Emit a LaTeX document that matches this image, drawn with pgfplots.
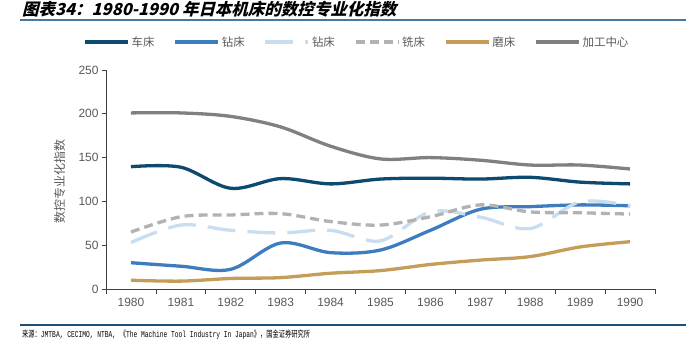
\documentclass[border=0pt]{standalone}
\usepackage{pgfplots}
\pgfplotsset{compat=1.18}
\usepackage{pgfplotstable}
\usepackage{graphicx}
\usepackage{fontspec}
\setmainfont{Liberation Sans}
\newfontfamily\cjk{Noto Sans CJK SC}
\newfontfamily\cjkt{Noto Sans CJK SC}[FakeSlant=0.25]
\newfontfamily\mono{Liberation Mono}
\definecolor{cLathe}{RGB}{13,74,112}
\definecolor{cDrill}{RGB}{62,124,192}
\definecolor{cDrillL}{RGB}{200,221,240}
\definecolor{cMill}{RGB}{178,178,178}
\definecolor{cGrind}{RGB}{196,157,88}
\definecolor{cMC}{RGB}{128,128,128}
\definecolor{cText}{RGB}{89,89,89}
\definecolor{cAxis}{RGB}{64,64,64}
\definecolor{cRule}{RGB}{70,120,160}
\definecolor{cRuleB}{RGB}{30,80,120}

\pgfplotstableread{
x lathe drill drillL mill grind mc
0 139.6 30   53   65   10 201
1 139   26   73   82.5  9 201
2 115   22.5 67   84.5 12 197
3 126   52.5 64   86   13 185
4 120   41.5 67   77   18 163
5 125.5 44.5 55   73   21 148.5
6 126.5 67   88   82.5 28 150
7 125.5 91   82   96   33 147
8 127.5 94   69   88   37 141.5
9 122   96   99.5 87   48 141.5
10 120  95   95   85.5 54 137
}\data

\begin{document}
\begin{tikzpicture}
\path[use as bounding box] (0,0) rectangle (689bp,358bp);
\begin{axis}[
  at={(106bp,69bp)}, anchor=south west,
  scale only axis, width=549bp, height=219bp,
  xmin=-0.5, xmax=10.5, ymin=0, ymax=250,
  xtick={0,...,10},
  xticklabels={1980,1981,1982,1983,1984,1985,1986,1987,1988,1989,1990},
  minor xtick={-0.5,0.5,...,10.5},
  ytick={0,50,...,250},
  major x tick style={draw=none},
  minor tick length=5bp,
  major tick length=4bp,
  tick align=outside,
  xtick pos=bottom, ytick pos=left,
  axis x line*=bottom, axis y line*=left,
  axis line style={cAxis, line width=0.8pt, -},
  tick style={cAxis, line width=0.8pt},
  every tick label/.append style={font=\fontsize{12}{14}\selectfont, text=cText},
  /pgf/number format/assume math mode=true,
  xticklabel style={yshift=-2bp},
  ylabel={\cjk 数控专业化指数},
  ylabel style={font=\fontsize{12}{14}\selectfont, text=cText, at={(axis description cs:-0.068,0.49)}, anchor=south},
  legend columns=6,
  legend style={at={(axis description cs:0.457,1.128)}, anchor=center, draw=none, fill=none,
    font=\fontsize{11.5}{13}\selectfont\cjk, text=cText,
    /tikz/every even column/.append style={column sep=17bp}},
  legend image code/.code={\draw[#1] (0bp,0bp) -- (43bp,0bp);},
  every axis plot/.append style={line width=3.3bp, smooth, tension=0.55, no markers},
]
\addplot[cLathe] table[x=x,y=lathe]{\data};
\addlegendentry{车床}
\addplot[cDrill] table[x=x,y=drill]{\data};
\addlegendentry{钻床}
\addplot[cDrillL, dash pattern=on 28bp off 12bp] table[x=x,y=drillL]{\data};
\addlegendentry{钻床}
\addplot[cMill, dash pattern=on 9bp off 5bp] table[x=x,y=mill]{\data};
\addlegendentry{铣床}
\addplot[cGrind] table[x=x,y=grind]{\data};
\addlegendentry{磨床}
\addplot[cMC] table[x=x,y=mc]{\data};
\addlegendentry{加工中心}
\end{axis}
\node[anchor=west, inner sep=0] at (22bp,349bp) {\resizebox{374bp}{!}{\cjkt\bfseries 图表34：1980-1990 年日本机床的数控专业化指数}};
\draw[cRule, line width=1.2bp] (20bp,338bp) -- (686bp,338bp);
\draw[cRuleB, line width=1.2bp] (20bp,33bp) -- (686bp,33bp);
\node[anchor=west, inner sep=0] at (22bp,23bp) {\resizebox{288bp}{\height}{\fontsize{9}{10}\selectfont\cjk 来源：\mono JMTBA, CECIMO, NTBA, \cjk《\mono The Machine Tool Industry In Japan\cjk》，国金证券研究所}};
\end{tikzpicture}
\end{document}
